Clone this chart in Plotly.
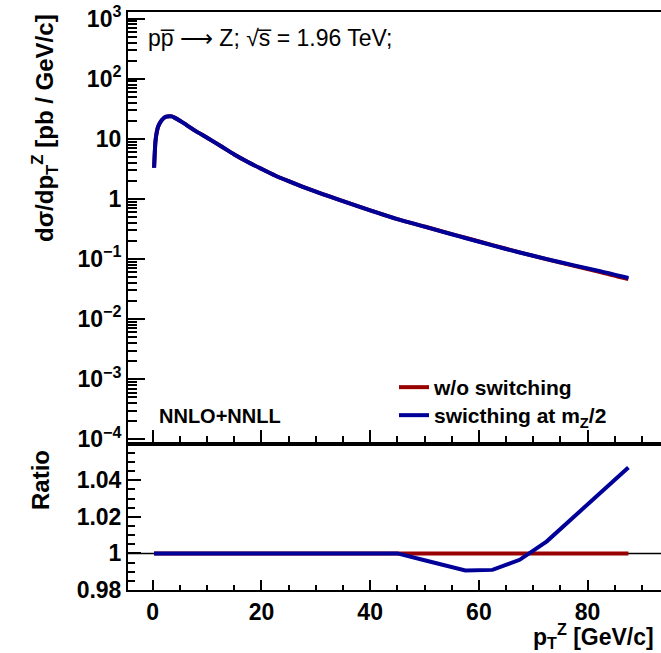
import plotly.graph_objects as go
from plotly.subplots import make_subplots

# pT grid [GeV/c]
pt = [0.25, 0.5, 0.75, 1.0, 1.5, 2.0, 2.5, 3.0, 3.5, 4.0, 5.0, 6.0, 7.0, 8.0,
      10.0, 12.5, 15.0, 17.5, 20.0, 22.5, 25.0, 27.5, 30.0, 32.5, 35.0, 40.0,
      45.0, 50.0, 55.0, 57.5, 62.5, 67.5, 72.5, 77.5, 82.5, 87.5]

# d(sigma)/dpT [pb / GeV/c] without switching
xsec_noswitch = [3.3, 9.0, 13.0, 16.0, 19.5, 22.0, 23.3, 23.8, 23.6, 22.5, 20.0,
                 17.5, 15.2, 13.3, 10.4, 7.6, 5.5, 4.12, 3.16, 2.45, 1.97, 1.60,
                 1.32, 1.10, 0.916, 0.646, 0.462, 0.347, 0.26, 0.226, 0.17, 0.129,
                 0.099, 0.0767, 0.0603, 0.0462]

# ratio (switching at mZ/2) / (w/o switching)
ratio_switch = [1.0] * 26 + [1.0, 0.9963, 0.9926, 0.9907, 0.991, 0.9965,
                             1.0066, 1.020, 1.0335, 1.047]

xsec_switch = [a * r for a, r in zip(xsec_noswitch, ratio_switch)]
ratio_noswitch = [a / a for a in xsec_noswitch]

# axis tick labels
y_top_vals = [1e-4, 1e-3, 1e-2, 1e-1, 1, 10, 100, 1000]
y_top_text = ["10<sup>\u22124</sup>", "10<sup>\u22123</sup>", "10<sup>\u22122</sup>",
              "10<sup>\u22121</sup>", "1", "10", "10<sup>2</sup>", "10<sup>3</sup>"]
y_rat_vals = [0.98, 1.0, 1.02, 1.04]
y_rat_text = ["0.98", "1", "1.02", "1.04"]

RED = "#990000"
BLUE = "#000099"
FONT = "Liberation Sans"

W, H = 661, 653
L, R, T, B = 128, 0, 12, 63
PW, PH = W - L - R, H - T - B


def px(x):
    return (x - L) / PW


def py(y):
    return (H - B - y) / PH


fig = make_subplots(rows=2, cols=1, shared_xaxes=False, vertical_spacing=0.0)

fig.add_trace(go.Scatter(x=pt, y=xsec_noswitch, mode="lines", name="w/o switching",
                         legend="legend",
                         line=dict(color=RED, width=4, shape="spline", smoothing=0.6)),
              row=1, col=1)
fig.add_trace(go.Scatter(x=pt, y=xsec_switch, mode="lines",
                         name="swicthing at m<sub>Z</sub>/2", legend="legend2",
                         line=dict(color=BLUE, width=4, shape="spline", smoothing=0.6)),
              row=1, col=1)
fig.add_trace(go.Scatter(x=pt, y=ratio_noswitch, mode="lines", showlegend=False,
                         line=dict(color=RED, width=4)), row=2, col=1)
fig.add_trace(go.Scatter(x=pt, y=ratio_switch, mode="lines", showlegend=False,
                         line=dict(color=BLUE, width=4)), row=2, col=1)

xrange = [-4.55, 93.5]
tickfont = dict(family=FONT, size=23, color="black", weight="bold")

common_x = dict(range=xrange, showline=True, linecolor="black", linewidth=2,
                mirror=True, ticks="inside", tick0=0, dtick=20, tickwidth=1.5,
                tickcolor="black", showgrid=False, zeroline=False)

fig.update_xaxes(domain=[0, 1], showticklabels=False, ticklen=12,
                 minor=dict(ticks="inside", dtick=5, tick0=0, ticklen=6,
                            tickwidth=1.5, tickcolor="black", showgrid=False),
                 **common_x, row=1, col=1)
fig.update_xaxes(domain=[0, 1], showticklabels=True, tickfont=tickfont, ticklen=10,
                 minor=dict(ticks="inside", dtick=5, tick0=0, ticklen=5,
                            tickwidth=1.5, tickcolor="black", showgrid=False),
                 **common_x, row=2, col=1)

fig.update_yaxes(type="log", range=[-4.045, 3.11], domain=[py(442), 1.0],
                 showline=True, linecolor="black", linewidth=2, mirror=False,
                 ticks="inside", ticklen=17, tickwidth=1.5, tickcolor="black",
                 tickvals=y_top_vals, ticktext=y_top_text, tickfont=tickfont,
                 minor=dict(ticks="inside", dtick="D1", ticklen=9, tickwidth=1.5,
                            tickcolor="black", showgrid=False),
                 showgrid=False, zeroline=False, row=1, col=1)
fig.update_yaxes(range=[0.98, 1.059], domain=[0, py(445.5)],
                 showline=True, linecolor="black", linewidth=2, mirror=False,
                 ticks="inside", ticklen=13, tickwidth=1.5, tickcolor="black",
                 tickvals=y_rat_vals, ticktext=y_rat_text, tickfont=tickfont,
                 minor=dict(ticks="inside", dtick=0.005, tick0=0.98, ticklen=7,
                            tickwidth=1.5, tickcolor="black", showgrid=False),
                 showgrid=False, zeroline=False, row=2, col=1)

# unity reference line in the ratio panel
fig.add_shape(type="line", xref="x2 domain", yref="y2", x0=0, x1=1, y0=1, y1=1,
              line=dict(color="black", width=1.5), layer="below")

annos = [
    dict(text="d\u03c3/dp<sub>T</sub><sup>Z</sup> [pb / GeV/c]", x=px(45), y=1.0,
         xanchor="center", yanchor="top", textangle=-90,
         font=dict(family=FONT, size=24, weight="bold")),
    dict(text="Ratio", x=px(40), y=py(448), xanchor="center", yanchor="top",
         textangle=-90, font=dict(family=FONT, size=24, weight="bold")),
    dict(text="p<sub>T</sub><sup>Z</sup> [GeV/c]", x=px(656), y=py(636),
         xanchor="right", yanchor="middle",
         font=dict(family=FONT, size=23, weight="bold")),
    dict(text="pp\u0305 \u27f6 Z; \u221as\u0305 = 1.96 TeV;", x=px(146), y=py(38),
         xanchor="left", yanchor="middle",
         font=dict(family=FONT, size=23)),
    dict(text="NNLO+NNLL", x=px(157), y=py(416), xanchor="left", yanchor="middle",
         font=dict(family=FONT, size=20, weight="bold")),
]
for a in annos:
    a.update(xref="paper", yref="paper", showarrow=False)
    a["font"].setdefault("color", "black")

legfont = dict(family=FONT, size=21, color="black", weight="bold")
fig.update_layout(
    width=W, height=H,
    margin=dict(l=L, r=R, t=T, b=B),
    paper_bgcolor="white", plot_bgcolor="white",
    annotations=annos,
    legend=dict(x=px(394), y=py(367), xanchor="left", yanchor="top",
                bgcolor="rgba(0,0,0,0)", borderwidth=0, font=legfont),
    legend2=dict(x=px(394), y=py(395), xanchor="left", yanchor="top",
                 bgcolor="rgba(0,0,0,0)", borderwidth=0, font=legfont),
    font=dict(family=FONT, color="black"),
)

fig.write_html("out.html")
